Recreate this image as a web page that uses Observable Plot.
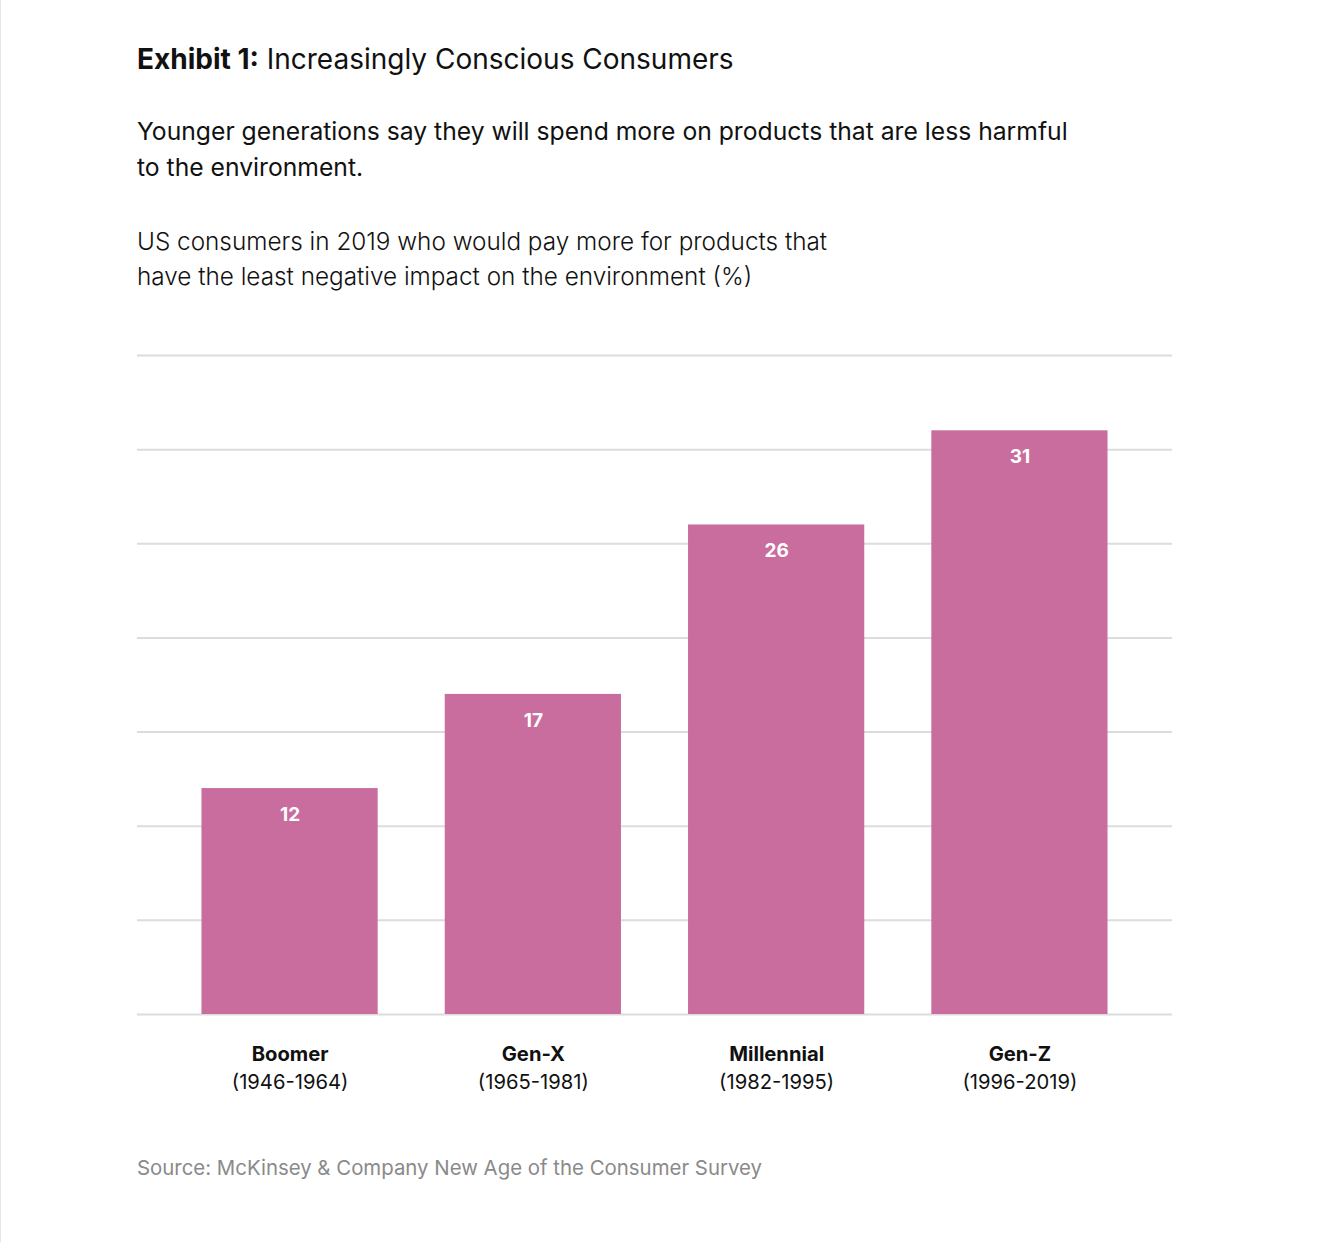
<!DOCTYPE html>
<html>
<head>
<meta charset="utf-8">
<script src="https://cdn.jsdelivr.net/npm/d3@7"></script>
<script src="https://cdn.jsdelivr.net/npm/@observablehq/plot@0.6"></script>
<style>
  html, body { margin: 0; padding: 0; background: #fff; }
  body { width: 1328px; height: 1242px; position: relative; font-family: Inter, "Noto Sans", sans-serif; color: #111; overflow: hidden; }
  .frame { position: absolute; left: 0; top: 0; width: 1px; height: 1242px; background: #e6e6e6; }
  .t { position: absolute; left: 137px; white-space: nowrap; }
  #title { top: 42px; font-size: 28px; }
  #title b { font-weight: 700; }
  #subtitle { top: 113px; font-size: 24.7px; line-height: 36px; }
  #desc { top: 224px; font-size: 24.3px; line-height: 35px; font-weight: 300; }
  #chart { position: absolute; left: 0; top: 300px; }
  #source { top: 1155px; font-size: 20.4px; color: #8a8a8a; }
</style>
</head>
<body>
<div class="frame"></div>
<div class="t" id="title"><b>Exhibit 1:</b> Increasingly Conscious Consumers</div>
<div class="t" id="subtitle">Younger generations say they will spend more on products that are less harmful<br>to the environment.</div>
<div class="t" id="desc">US consumers in 2019 who would pay more for products that<br>have the least negative impact on the environment (%)</div>
<div id="chart"></div>
<div class="t" id="source">Source: McKinsey &amp; Company New Age of the Consumer Survey</div>
<script>
const generations = ["Boomer", "Gen-X", "Millennial", "Gen-Z"];
const years = ["(1946-1964)", "(1965-1981)", "(1982-1995)", "(1996-2019)"];
const shares = [12, 17, 26, 31];
const gridTicks = [0, 5, 10, 15, 20, 25, 30, 35];

const data = generations.map((g, i) => ({gen: g, years: years[i], value: shares[i]}));

const plot = Plot.plot({
  width: 1328,
  height: 814,
  marginTop: 55,
  marginBottom: 100,
  marginLeft: 137,
  marginRight: 156,
  style: {fontFamily: "Inter, 'Noto Sans', sans-serif", background: "transparent"},
  x: {domain: generations, paddingInner: 0.2757, paddingOuter: 0.265, align: 0.5, round: false, axis: null},
  y: {domain: [0, 35], axis: null},
  marks: [
    Plot.ruleY(gridTicks, {stroke: "#dcdcdc", strokeWidth: 2}),
    Plot.barY(data, {x: "gen", y: "value", fill: "#c96d9f"}),
    Plot.text(data, {x: "gen", y: "value", text: d => String(d.value), dy: 26, fill: "white", fontWeight: 700, fontSize: 19}),
    Plot.text(data, {x: "gen", y: () => 0, text: "gen", dy: 40, fill: "#111", fontWeight: 700, fontSize: 20.2}),
    Plot.text(data, {x: "gen", y: () => 0, text: "years", dy: 68, fill: "#111", fontSize: 20.2})
  ]
});
document.getElementById("chart").appendChild(plot);
</script>
</body>
</html>
